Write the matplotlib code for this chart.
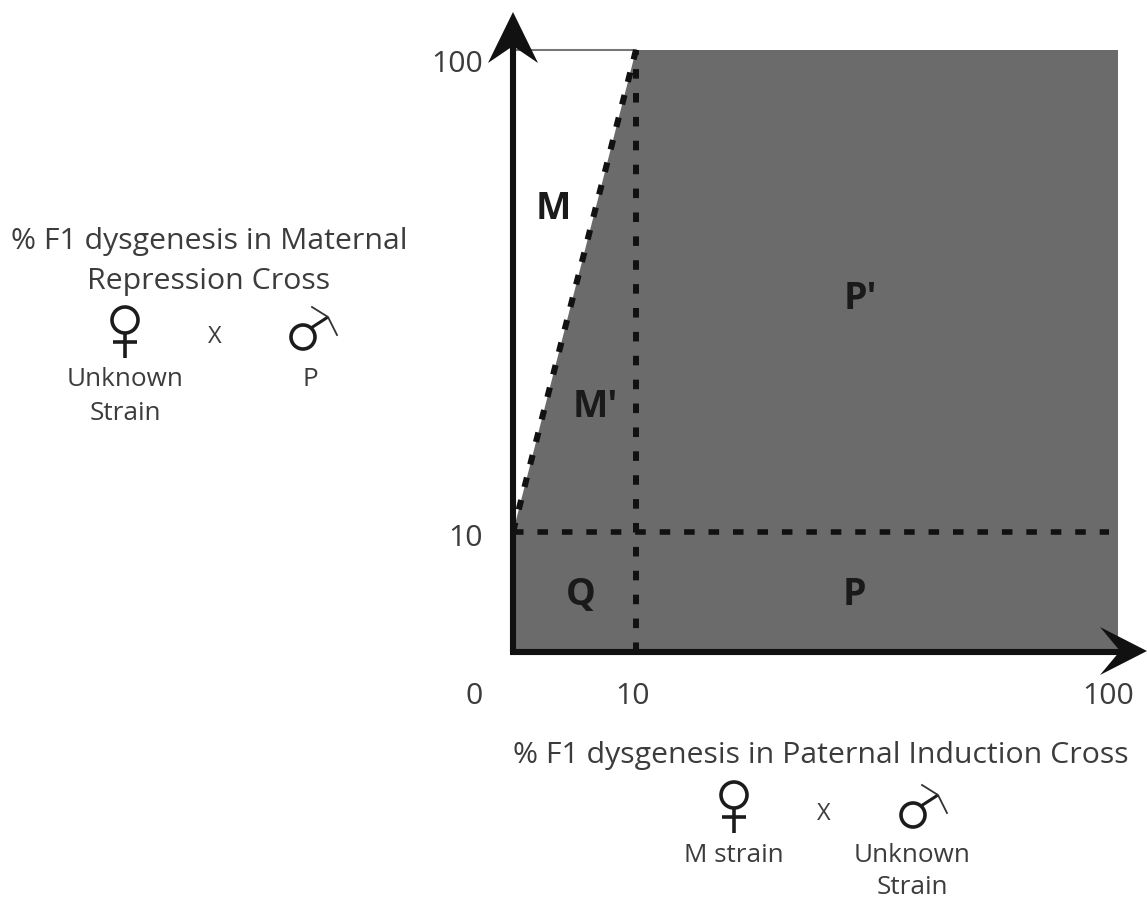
#!/usr/bin/env python3
"""Hybrid dysgenesis classes: M, M', P, P', Q"""

import numpy as np
import matplotlib
matplotlib.use('Agg')
import matplotlib.pyplot as plt

plt.rcParams['font.family'] = ['Open Sans', 'DejaVu Sans']

# data
breaks = [0, 10, 100]
region_x = [0, 100, 100, 10, 0]
region_y = [0, 0, 100, 100, 10]
slant_x = [0, 10]
slant_y = [10, 100]
split = 10
x_ticks = ['0', '10', '100']
y_ticks = ['10', '100']
region_names = ['M', 'M\u2032', 'P\u2032', 'Q', 'P']

W, H = 1147, 899
GREY = '#6b6b6b'
TEXT = '#3c3c3c'

fig = plt.figure(figsize=(W/100, H/100), dpi=100)

# the scale is stretched below 10, piecewise linear on both axes
x0, x10, x100 = 513, 636, 1118
y0, y10, y100 = 652, 532, 50
x_knots = [0, (x10-x0)/(x100-x0), 1]
y_knots = [0, (y0-y10)/(y0-y100), 1]

ax = fig.add_axes([x0/W, 1-y0/H, (x100-x0)/W, (y0-y100)/H])
ax.set_xscale('function', functions=(lambda v: np.interp(v, breaks, x_knots),
                                     lambda v: np.interp(v, x_knots, breaks)))
ax.set_yscale('function', functions=(lambda v: np.interp(v, breaks, y_knots),
                                     lambda v: np.interp(v, y_knots, breaks)))
ax.set_xlim(0, 100)
ax.set_ylim(0, 100)
ax.axis('off')

ax.fill(region_x, region_y, color=GREY, lw=0, zorder=1)
ax.plot([0, 10], [100, 100], color='#777777', lw=1.5, zorder=1, clip_on=False)

ax.plot([split, split], [0, 100], color='#111111', lw=4.3, dashes=(1.6, 2.4), zorder=2)
ax.plot([0, 98.4], [split, split], color='#111111', lw=4.0, dashes=(1.9, 2.5), zorder=2)
ax.plot(slant_x, slant_y, color='#111111', lw=4.4, dashes=(1.6, 2.2), zorder=3, clip_on=False)

# overlay in image pixels for the axes arrows, symbols and text
ov = fig.add_axes([0, 0, 1, 1])
ov.set_xlim(0, W)
ov.set_ylim(H, 0)
ov.axis('off')
ov.patch.set_alpha(0)

ov.plot([513, 513], [652, 40], color='#111111', lw=4.4, solid_capstyle='butt')
ov.plot([510, 1125], [652, 652], color='#111111', lw=4.4, solid_capstyle='butt')
ov.fill([513, 538, 513, 488], [12, 63, 46, 63], color='#111111', lw=0)
ov.fill([1147, 1100, 1120, 1100], [651, 627, 651, 675], color='#111111', lw=0)


def female(x, y, r=13):
    ov.add_patch(plt.Circle((x, y), r, fill=False, ec='#1c1c1c', lw=2.6))
    ov.plot([x, x], [y+r, y+r+25], color='#1c1c1c', lw=2.6, solid_capstyle='butt')
    ov.plot([x-12, x+12], [y+r+9, y+r+9], color='#1c1c1c', lw=2.6, solid_capstyle='butt')


def male(x, y, r=12):
    ov.add_patch(plt.Circle((x, y), r, fill=False, ec='#1c1c1c', lw=2.6))
    ov.plot([x+8, x+25], [y-9, y-20], color='#1c1c1c', lw=2.2, solid_capstyle='butt')
    ov.plot([x+9, x+25, x+34], [y-30, y-20, y-2], color='#333333', lw=1.3)


female(125, 320)
male(303, 337)
female(734, 795)
male(913, 815)


def label(x, y, s, size=21.8, **kw):
    ov.text(x, y, s, fontsize=size, color=kw.pop('color', TEXT), ha='center', va='center', **kw)


label(209, 241, '% F1 dysgenesis in Maternal')
label(209, 281, 'Repression Cross')
label(215, 337, 'X', size=17)
label(125, 380, 'Unknown', size=18.8)
label(125, 414, 'Strain', size=18.8)
label(310, 380, 'P', size=18.8)

label(821, 756, '% F1 dysgenesis in Paternal Induction Cross')
label(824, 814, 'X', size=17)
label(734, 856, 'M strain', size=18.8)
label(912, 856, 'Unknown', size=18.8)
label(912, 888, 'Strain', size=18.8)

# tick labels
for s, px in zip(x_ticks, [474, 633, 1108]):
    label(px, 697, s)
for s, (px, py) in zip(y_ticks, [(466, 539), (457, 65)]):
    label(px, py, s)

# region names
name_pos = [(553, 209), (595, 407), (860, 299), (581, 595), (854, 595)]
for s, (px, py) in zip(region_names, name_pos):
    label(px, py, s, size=27, color='#1a1a1a', fontweight='bold')

fig.savefig('out.png', dpi=100)
